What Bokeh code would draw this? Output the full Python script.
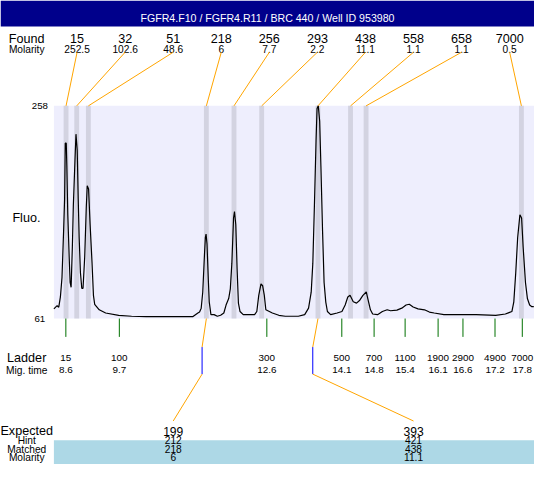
from bokeh.plotting import figure
from bokeh.models import Range1d
from bokeh.core.properties import value
from bokeh.embed import file_html
from bokeh.resources import INLINE

# ---------------- data ----------------
title_text = "FGFR4.F10 / FGFR4.R11 / BRC 440 / Well ID 953980"

found_size = ["15", "32", "51", "218", "256", "293", "438", "558", "658", "7000"]
found_molarity = ["252.5", "102.6", "48.6", "6", "7.7", "2.2", "11.1", "1.1", "1.1", "0.5"]
found_time = [8.604, 8.819, 9.054, 11.432, 11.989, 12.547, 13.682, 14.338, 14.651, 17.782]

ladder_size = ["15", "100", "300", "500", "700", "1100", "1900", "2900", "4900", "7000"]
ladder_mig_time = ["8.6", "9.7", "12.6", "14.1", "14.8", "15.4", "16.1", "16.6", "17.2", "17.8"]
ladder_time = [8.600, 9.678, 12.651, 14.162, 14.813, 15.438, 16.103, 16.604, 17.250, 17.800]

expected_size = ["199", "393"]
hint_size = ["212", "421"]
matched_size = ["218", "438"]
matched_molarity = ["6", "11.1"]
matched_found_index = [3, 6]
hint_time = [11.346, 13.577]

y_ticks = [61, 258]
t_window = [8.359, 18.046]

trace_time = [8.359, 8.424, 8.457, 8.490, 8.522, 8.555, 8.575, 8.588, 8.608, 8.620,
              8.639, 8.667, 8.686, 8.706, 8.731, 8.751, 8.784, 8.804, 8.829, 8.849,
              8.868, 8.894, 8.921, 8.946, 8.980, 9.011, 9.031, 9.058, 9.089, 9.128,
              9.156, 9.181, 9.273, 9.402, 9.665, 9.925, 10.218, 11.163, 11.261, 11.295,
              11.328, 11.359, 11.392, 11.412, 11.426, 11.445, 11.471, 11.490, 11.524, 11.588,
              11.653, 11.719, 11.784, 11.829, 11.882, 11.915, 11.946, 11.980, 11.999, 12.025,
              12.052, 12.078, 12.111, 12.175, 12.404, 12.449, 12.488, 12.533, 12.566, 12.600,
              12.631, 12.762, 12.893, 13.023, 13.285, 13.414, 13.492, 13.545, 13.578, 13.610,
              13.643, 13.663, 13.688, 13.716, 13.741, 13.774, 13.805, 13.839, 13.872, 13.937,
              14.068, 14.165, 14.230, 14.283, 14.328, 14.393, 14.459, 14.524, 14.588, 14.655,
              14.686, 14.739, 14.784, 14.882, 14.980, 15.077, 15.144, 15.273, 15.371, 15.457,
              15.522, 15.600, 15.698, 15.829, 15.927, 16.025, 16.220, 16.872, 17.264, 17.459,
              17.590, 17.629, 17.668, 17.707, 17.752, 17.786, 17.817, 17.864, 17.903, 17.948,
              17.993, 18.032]
trace_fluo = [70.0, 72.9, 71.5, 81.0, 98.9, 142.5, 172.0, 223.4, 223.4, 201.9,
              157.1, 118.3, 94.4, 89.9, 127.3, 166.0, 207.9, 231.8, 216.8, 172.0,
              136.2, 103.4, 89.0, 89.0, 118.3, 163.1, 184.0, 181.0, 148.1, 112.3,
              82.5, 74.2, 69.1, 66.1, 64.0, 63.1, 62.8, 62.8, 66.1, 67.0,
              70.6, 85.4, 118.3, 136.2, 139.2, 130.2, 97.4, 76.5, 64.6, 64.6,
              63.1, 64.0, 66.1, 73.5, 79.5, 88.5, 112.3, 154.1, 160.1, 148.1,
              106.4, 75.3, 67.5, 64.6, 64.6, 67.5, 82.5, 93.0, 91.4, 82.5,
              69.1, 66.1, 64.0, 63.1, 63.1, 64.6, 70.6, 85.4, 112.3, 166.0,
              225.8, 255.6, 258.0, 243.7, 201.9, 142.2, 94.4, 76.2, 67.5, 64.6,
              66.1, 67.5, 73.5, 81.0, 82.5, 76.5, 75.3, 78.0, 82.5, 85.6,
              79.5, 69.1, 65.2, 64.6, 67.5, 69.1, 68.2, 68.8, 70.6, 73.5,
              74.2, 71.7, 70.0, 69.1, 67.0, 66.1, 64.6, 64.6, 64.0, 65.2,
              67.5, 76.5, 103.4, 136.2, 157.1, 154.1, 127.3, 94.4, 79.5, 73.5,
              72.0, 72.0]

# ---------------- layout (reference-pixel frame) ----------------
REF_W, REF_H = 550, 480
FIG_W, FIG_H = 534, 464
PLOT_L, PLOT_R, PLOT_T, PLOT_B = 55, 550, 109, 329
KX = (PLOT_R - PLOT_L) / (t_window[1] - t_window[0])
KY = (PLOT_B - PLOT_T) / (y_ticks[1] - y_ticks[0])


def X(px):
    return t_window[0] + (px - PLOT_L) / KX


def Y(py):
    return y_ticks[0] + (PLOT_B - py) / KY


FONT = value("Liberation Sans")
SCALE = FIG_H / REF_H


def fs(px):
    return value(f"{px * SCALE:.1f}px")


SLOT0, SLOT_STEP = 78.9, 49.5
slot_x = [X(SLOT0 + i * SLOT_STEP) for i in range(len(found_size))]
expected_slot = [2, 7]
LABEL_X = X(27)

NAVY = "#00008B"
LAVENDER = "#EEEEFD"
BAND = "#D3D3E1"
ORANGE = "#FFA500"
GREEN = "#007000"
LIGHTBLUE = "#ADD8E6"

p = figure(width=FIG_W, height=FIG_H, x_range=Range1d(X(0), X(REF_W)),
           y_range=Range1d(Y(REF_H), Y(0)), output_backend="svg",
           toolbar_location=None, x_axis_location=None, y_axis_location=None,
           min_border=0, tools="")
p.grid.visible = False
p.outline_line_color = None
p.background_fill_color = "white"
p.border_fill_color = "white"


def txt(xs, ys, texts, size, align="center", color="black", baseline="alphabetic"):
    p.text(x=xs, y=ys, text=texts, text_font=FONT, text_font_size=fs(size),
           text_align=align, text_baseline=baseline, text_color=color)


# title bar
p.quad(left=[X(0)], right=[X(REF_W)], bottom=[Y(27)], top=[Y(0)],
       fill_color=NAVY, line_color=None)
txt([X(275)], [Y(18.5)], [title_text], 11, color="white")

# plot area
p.quad(left=[t_window[0]], right=[t_window[1]], bottom=[y_ticks[0]], top=[y_ticks[1]],
       fill_color=LAVENDER, line_color=None)
p.vbar(x=found_time, width=5 / KX, bottom=y_ticks[0], top=y_ticks[1],
       fill_color=BAND, line_color=None)
p.line(trace_time, trace_fluo, line_color="black", line_width=1.2)

# y labels
txt([X(40.5)] * 2, y_ticks, [str(v) for v in y_ticks], 10, baseline="middle")
txt([X(26.7)], [Y(225)], ["Fluo."], 13)

# found rows
txt([LABEL_X], [Y(39.5)], ["Found"], 13)
txt([LABEL_X], [Y(50.5)], ["Molarity"], 10.5)
txt(slot_x, [Y(39.5)] * len(slot_x), found_size, 13)
txt(slot_x, [Y(50.5)] * len(slot_x), found_molarity, 10.5)
p.segment(x0=slot_x, y0=[Y(53.5)] * len(slot_x), x1=found_time,
          y1=[y_ticks[1]] * len(found_time), line_color=ORANGE, line_width=1)

# ladder
p.segment(x0=ladder_time, y0=[y_ticks[0]] * len(ladder_time), x1=ladder_time,
          y1=[Y(348)] * len(ladder_time), line_color=GREEN, line_width=1)
txt([LABEL_X], [Y(370)], ["Ladder"], 13)
txt([LABEL_X], [Y(382.5)], ["Mig. time"], 10.5)
txt(ladder_time, [Y(370)] * len(ladder_time), ladder_size, 10.2)
txt(ladder_time, [Y(382.5)] * len(ladder_time), ladder_mig_time, 10.2)

# matched connectors
m_time = [found_time[i] for i in matched_found_index]
exp_x = [slot_x[i] for i in expected_slot]
n = len(m_time)
p.segment(x0=m_time, y0=[y_ticks[0]] * n, x1=hint_time, y1=[Y(358.5)] * n,
          line_color=ORANGE, line_width=1)
p.segment(x0=hint_time, y0=[Y(358.5)] * n, x1=hint_time, y1=[Y(386.5)] * n,
          line_color="blue", line_width=1)
p.segment(x0=hint_time, y0=[Y(386.5)] * n, x1=exp_x, y1=[Y(435)] * n,
          line_color=ORANGE, line_width=1)

# expected table
ROW_E, ROW_H, ROW_M, ROW_MO = 445.5, 455, 464, 472.5
p.quad(left=[t_window[0]], right=[t_window[1]], bottom=[Y(REF_H)], top=[Y(ROW_M - 9)],
       fill_color=LIGHTBLUE, line_color=None)
txt([LABEL_X], [Y(ROW_E)], ["Expected"], 13)
txt([LABEL_X], [Y(ROW_H)], ["Hint"], 10.5)
txt([LABEL_X], [Y(ROW_M)], ["Matched"], 10.5)
txt([LABEL_X], [Y(ROW_MO)], ["Molarity"], 10.5)
txt(exp_x, [Y(ROW_E)] * n, expected_size, 12.5)
txt(exp_x, [Y(ROW_H)] * n, hint_size, 10.5)
txt(exp_x, [Y(ROW_M)] * n, matched_size, 10.5)
txt(exp_x, [Y(ROW_MO)] * n, matched_molarity, 10.5)

open("out.html", "w").write(file_html(p, INLINE))
